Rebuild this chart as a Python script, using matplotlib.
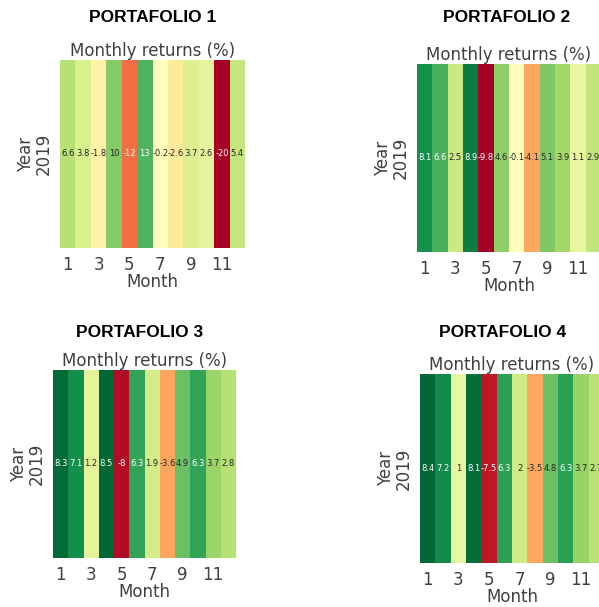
import numpy as np
import matplotlib.pyplot as plt
import seaborn as sns

months = list(range(1, 13))
year = ["2019"]

returnsP1 = [6.6, 3.8, -1.8, 10, -12, 13, -0.2, -2.6, 3.7, 2.6, -20, 5.4]
returnsP2 = [8.1, 6.6, 2.5, 8.9, -9.8, 4.6, -0.1, -4.1, 5.1, 3.9, 1.1, 2.9]
returnsP3 = [8.3, 7.1, 1.2, 8.5, -8, 6.3, 1.9, -3.6, 4.9, 6.3, 3.7, 2.8]
returnsP4 = [8.4, 7.2, 1, 8.1, -7.5, 6.3, 2, -3.5, 4.8, 6.3, 3.7, 2.7]

portfolioNames = ["PORTAFOLIO 1", "PORTAFOLIO 2", "PORTAFOLIO 3", "PORTAFOLIO 4"]
portfolioReturns = [returnsP1, returnsP2, returnsP3, returnsP4]

W, H = 599, 607
fig = plt.figure(figsize=(W / 100, H / 100), dpi=100)

# heatmap boxes in pixels: x0, x1, y0 (top), y1 (bottom)
boxes = [(60, 245, 60, 248), (417, 601, 64, 252), (53, 236, 370, 558), (420, 604, 374, 563)]
# bold headers: centre x, y
headers = [(153, 18), (507, 18), (140, 333), (503, 333)]

textGrey = "0.25"

for name, rets, box, head in zip(portfolioNames, portfolioReturns, boxes, headers):
	x0, x1, y0, y1 = box
	ax = fig.add_axes([x0 / W, 1 - y1 / H, (x1 - x0) / W, (y1 - y0) / H])
	data = np.array(rets, dtype=float).reshape(1, -1)
	sns.heatmap(data, ax=ax, cmap="RdYlGn", center=0, annot=True, cbar=False,
				annot_kws={"fontsize": 6}, xticklabels=months, yticklabels=year)
	ax.set_xticks(np.arange(0, 12, 2) + 0.5)
	ax.set_xticklabels(months[::2], rotation=0, fontsize=12, color=textGrey)
	ax.set_yticklabels(year, rotation=90, va="center", fontsize=12, color=textGrey)
	ax.tick_params(axis="x", length=0, pad=6)
	ax.tick_params(axis="y", length=0, pad=5)
	ax.set_xlabel("Month", fontsize=12, color=textGrey, labelpad=-1)
	ax.set_ylabel("Year", fontsize=12, color=textGrey, labelpad=0)
	ax.set_title("Monthly returns (%)", fontsize=12, color=textGrey, pad=2)
	fig.text(head[0] / W, 1 - head[1] / H, name, ha="center", va="center",
			 fontsize=12.5, fontweight="bold", family="Liberation Sans", color="black")

plt.savefig("out.png", format="png")
